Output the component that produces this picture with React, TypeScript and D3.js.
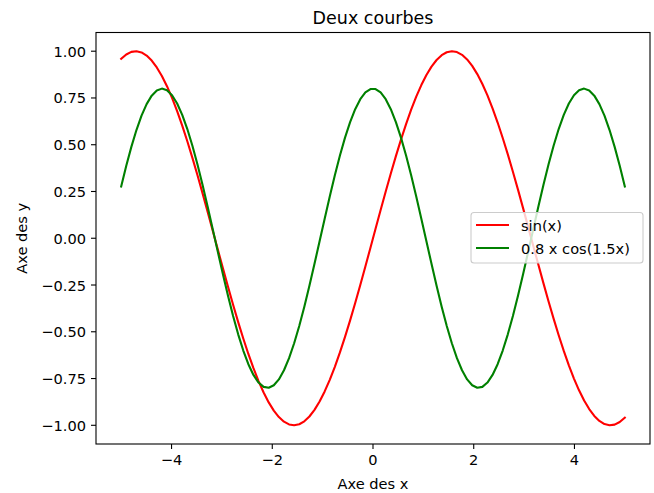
import React from "react";
import * as d3 from "d3";

const xs = [
  -5.0, -4.899, -4.798, -4.697, -4.596, -4.4949, -4.3939, -4.2929, -4.1919, -4.0909,
  -3.9899, -3.8889, -3.7879, -3.6869, -3.5859, -3.4848, -3.3838, -3.2828, -3.1818, -3.0808,
  -2.9798, -2.8788, -2.7778, -2.6768, -2.5758, -2.4747, -2.3737, -2.2727, -2.1717, -2.0707,
  -1.9697, -1.8687, -1.7677, -1.6667, -1.5657, -1.4646, -1.3636, -1.2626, -1.1616, -1.0606,
  -0.9596, -0.8586, -0.7576, -0.6566, -0.5556, -0.4545, -0.3535, -0.2525, -0.1515, -0.0505,
  0.0505, 0.1515, 0.2525, 0.3535, 0.4545, 0.5556, 0.6566, 0.7576, 0.8586, 0.9596,
  1.0606, 1.1616, 1.2626, 1.3636, 1.4646, 1.5657, 1.6667, 1.7677, 1.8687, 1.9697,
  2.0707, 2.1717, 2.2727, 2.3737, 2.4747, 2.5758, 2.6768, 2.7778, 2.8788, 2.9798,
  3.0808, 3.1818, 3.2828, 3.3838, 3.4848, 3.5859, 3.6869, 3.7879, 3.8889, 3.9899,
  4.0909, 4.1919, 4.2929, 4.3939, 4.4949, 4.596, 4.697, 4.798, 4.899, 5.0,
];

const sinValues = [
  0.9589, 0.9826, 0.9963, 0.9999, 0.9932, 0.9764, 0.9497, 0.9133, 0.8676, 0.813,
  0.7502, 0.6796, 0.6023, 0.5187, 0.4298, 0.3365, 0.2398, 0.1407, 0.0402, -0.0608,
  -0.1611, -0.2598, -0.3558, -0.4482, -0.5361, -0.6186, -0.6946, -0.7636, -0.8248, -0.8776,
  -0.9215, -0.956, -0.9807, -0.9954, -1.0, -0.9944, -0.9786, -0.9529, -0.9175, -0.8726,
  -0.8189, -0.7569, -0.6872, -0.6105, -0.5275, -0.439, -0.3462, -0.2498, -0.1509, -0.0505,
  0.0505, 0.1509, 0.2498, 0.3462, 0.439, 0.5275, 0.6105, 0.6872, 0.7569, 0.8189,
  0.8726, 0.9175, 0.9529, 0.9786, 0.9944, 1.0, 0.9954, 0.9807, 0.956, 0.9215,
  0.8776, 0.8248, 0.7636, 0.6946, 0.6186, 0.5361, 0.4482, 0.3558, 0.2598, 0.1611,
  0.0608, -0.0402, -0.1407, -0.2398, -0.3365, -0.4298, -0.5187, -0.6023, -0.6796, -0.7502,
  -0.813, -0.8676, -0.9133, -0.9497, -0.9764, -0.9932, -0.9999, -0.9963, -0.9826, -0.9589,
];

const cosValues = [
  0.2773, 0.3874, 0.4886, 0.5786, 0.6554, 0.7171, 0.7624, 0.7902, 0.8, 0.7914,
  0.7646, 0.7204, 0.6596, 0.5838, 0.4945, 0.394, 0.2844, 0.1682, 0.0482, -0.0729,
  -0.1922, -0.3073, -0.4152, -0.5137, -0.6003, -0.6733, -0.7308, -0.7715, -0.7946, -0.7995,
  -0.786, -0.7546, -0.7058, -0.6409, -0.5613, -0.4689, -0.3657, -0.254, -0.1366, -0.0161,
  0.1048, 0.2233, 0.3367, 0.4424, 0.538, 0.6211, 0.6901, 0.7433, 0.7794, 0.7977,
  0.7977, 0.7794, 0.7433, 0.6901, 0.6211, 0.538, 0.4424, 0.3367, 0.2233, 0.1048,
  -0.0161, -0.1366, -0.254, -0.3657, -0.4689, -0.5613, -0.6409, -0.7058, -0.7546, -0.786,
  -0.7995, -0.7946, -0.7715, -0.7308, -0.6733, -0.6003, -0.5137, -0.4152, -0.3073, -0.1922,
  -0.0729, 0.0482, 0.1682, 0.2844, 0.394, 0.4945, 0.5838, 0.6596, 0.7204, 0.7646,
  0.7914, 0.8, 0.7902, 0.7624, 0.7171, 0.6554, 0.5786, 0.4886, 0.3874, 0.2773,
];

const xTicks = [-4, -2, 0, 2, 4];
const yTicks = [-1.0, -0.75, -0.5, -0.25, 0.0, 0.25, 0.5, 0.75, 1.0];

const seriesNames = ["sin(x)", "0.8 x cos(1.5x)"];
const seriesColors = ["#ff0000", "#008000"];

const W = 654;
const H = 493;
const M = { left: 96, right: 650, top: 32.5, bottom: 444 };
const FONT = "'DejaVu Sans', sans-serif";

const fmt = (v: number) => {
  const s = v.toFixed(2);
  return v < 0 ? "\u2212" + s.slice(1) : s;
};
const fmtX = (v: number) => (v < 0 ? "\u2212" + Math.abs(v) : String(v));

export default function App() {
  const x = d3.scaleLinear().domain([-5.5, 5.5]).range([M.left, M.right]);
  const yMin = d3.min([...sinValues, ...cosValues]) as number;
  const yMax = d3.max([...sinValues, ...cosValues]) as number;
  const pad = (yMax - yMin) * 0.05;
  const y = d3.scaleLinear().domain([yMin - pad, yMax + pad]).range([M.bottom, M.top]);

  const line = d3
    .line<number>()
    .x((_, i) => x(xs[i]))
    .y((d) => y(d));

  const series = [sinValues, cosValues];
  const tickLen = 5;
  const fs = 14.6;

  return (
    <svg
      width={W}
      height={H}
      style={{ position: "absolute", left: 0, top: 0, background: "#fff" }}
      fontFamily={FONT}
    >
      <rect x={0} y={0} width={W} height={H} fill="#fff" />
      <defs>
        <clipPath id="plotclip">
          <rect x={M.left} y={M.top} width={M.right - M.left} height={M.bottom - M.top} />
        </clipPath>
      </defs>
      <g clipPath="url(#plotclip)">
        {series.map((s, i) => (
          <path
            key={i}
            d={line(s) || ""}
            fill="none"
            stroke={seriesColors[i]}
            strokeWidth={2.1}
            strokeLinejoin="round"
            strokeLinecap="square"
          />
        ))}
      </g>
      <rect
        x={M.left}
        y={M.top}
        width={M.right - M.left}
        height={M.bottom - M.top}
        fill="none"
        stroke="#000"
        strokeWidth={1.1}
      />
      {xTicks.map((t) => (
        <g key={"x" + t}>
          <line x1={x(t)} x2={x(t)} y1={M.bottom} y2={M.bottom + tickLen} stroke="#000" strokeWidth={1.1} />
          <text x={x(t)} y={M.bottom + tickLen + 5} textAnchor="middle" dominantBaseline="hanging" fontSize={fs} fill="#000">
            {fmtX(t)}
          </text>
        </g>
      ))}
      {yTicks.map((t) => (
        <g key={"y" + t}>
          <line x1={M.left - tickLen} x2={M.left} y1={y(t)} y2={y(t)} stroke="#000" strokeWidth={1.1} />
          <text x={M.left - tickLen - 5} y={y(t)} textAnchor="end" dominantBaseline="central" fontSize={fs} fill="#000">
            {fmt(t)}
          </text>
        </g>
      ))}
      <text x={(M.left + M.right) / 2} y={24} textAnchor="middle" fontSize={17.5} fill="#000">
        Deux courbes
      </text>
      <text x={(M.left + M.right) / 2} y={489} textAnchor="middle" fontSize={fs} fill="#000">
        Axe des x
      </text>
      <text
        transform={`translate(${27},${(M.top + M.bottom) / 2}) rotate(-90)`}
        textAnchor="middle"
        fontSize={fs}
        fill="#000"
      >
        Axe des y
      </text>
      <g>
        <rect x={471} y={212.5} width={172} height={50.5} rx={3} fill="#fff" fillOpacity={0.8} stroke="#cccccc" strokeWidth={1.1} />
        {seriesNames.map((n, i) => (
          <g key={n}>
            <line x1={476} x2={509} y1={225 + i * 23} y2={225 + i * 23} stroke={seriesColors[i]} strokeWidth={2.1} />
            <text x={521} y={225 + i * 23} dominantBaseline="central" fontSize={fs} fill="#000">
              {n}
            </text>
          </g>
        ))}
      </g>
    </svg>
  );
}
